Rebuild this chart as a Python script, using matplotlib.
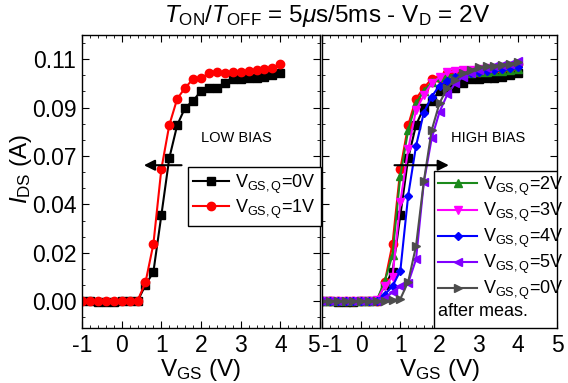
import numpy as np
import matplotlib
matplotlib.use('Agg')
import matplotlib.pyplot as plt
from matplotlib.ticker import MultipleLocator, FormatStrFormatter
from matplotlib.patches import Rectangle

plt.rcParams['font.family'] = 'Liberation Sans'
plt.rcParams['mathtext.fontset'] = 'custom'
plt.rcParams['mathtext.rm'] = 'Liberation Sans'
plt.rcParams['mathtext.it'] = 'Liberation Sans:italic'
plt.rcParams['axes.unicode_minus'] = False

# gate voltage sweep, V
vgs = np.round(np.arange(-1.0, 4.01, 0.2), 1)
xticks = [-1, 0, 1, 2, 3, 4, 5]

# drain current, A  (flat part -1 .. 0.4 V, then 0.6 .. 4.0 V)
i_q0 = [0.0, 0.0, -0.0005, -0.0005, -0.0005, 0.0, 0.0, 0.0,
        0.0073, 0.0133, 0.039, 0.065, 0.080, 0.088, 0.091, 0.0956,
        0.0967, 0.097, 0.099, 0.1008, 0.1012, 0.1015, 0.1015, 0.1017, 0.103, 0.1035]
i_q1 = [0.0, 0.0, 0.0, 0.0, 0.0, 0.0002, 0.0002, 0.0002,
        0.0085, 0.026, 0.060, 0.080, 0.092, 0.097, 0.101, 0.1015,
        0.1035, 0.104, 0.1035, 0.104, 0.1042, 0.1047, 0.105, 0.1056, 0.1062, 0.1076]
i_q2 = [0.0, 0.0, 0.0, 0.0, 0.0, 0.0, 0.0, 0.0005,
        0.009, 0.021, 0.057, 0.0777, 0.090, 0.0955, 0.0995, 0.1018,
        0.1025, 0.103, 0.1032, 0.1035, 0.104, 0.1042, 0.1045, 0.1048, 0.105, 0.1055]
i_q3 = [0.0, 0.0, 0.0, 0.0, 0.0, 0.0, 0.0, 0.0005,
        0.0068, 0.011, 0.045, 0.069, 0.0868, 0.0936, 0.099, 0.1018,
        0.104, 0.1045, 0.105, 0.1052, 0.1055, 0.106, 0.1062, 0.1065, 0.107, 0.1075]
i_q4 = [0.0, 0.0, 0.0, 0.0, 0.0, 0.0, 0.0, 0.0003,
        0.003, 0.0068, 0.0138, 0.048, 0.0705, 0.0857, 0.093, 0.098,
        0.100, 0.102, 0.103, 0.1035, 0.104, 0.1045, 0.105, 0.1055, 0.106, 0.1065]
i_q5 = [0.0, 0.0, 0.0, 0.0, 0.0, 0.0, 0.0, 0.0,
        0.0015, 0.004, 0.0068, 0.0082, 0.019, 0.054, 0.074, 0.086,
        0.094, 0.099, 0.102, 0.1035, 0.105, 0.106, 0.1068, 0.1075, 0.108, 0.109]
i_after = [0.0, 0.0, 0.0, 0.0, 0.0, 0.0, 0.0, 0.0,
           0.0, 0.0005, 0.001, 0.0088, 0.025, 0.0545, 0.0777, 0.090,
           0.097, 0.1007, 0.1035, 0.105, 0.1065, 0.1067, 0.107, 0.1075, 0.108, 0.1085]

fig = plt.figure(figsize=(5.68, 3.83), dpi=100)
ax1 = fig.add_axes([82/568, 55/383, 238/568, 293/383])
ax2 = fig.add_axes([322/568, 55/383, 235/568, 293/383])

ms = 5.5
ax1.plot(vgs, i_q0, 'k-s', ms=ms, lw=1.5, label=r'V$_{\mathrm{GS,Q}}$=0V')
ax1.plot(vgs, i_q1, '-o', color='#ff0000', ms=ms + 0.5, lw=1.5, label=r'V$_{\mathrm{GS,Q}}$=1V')

ax2.plot(vgs, i_q0, 'k-s', ms=ms, lw=1.5)
ax2.plot(vgs, i_q1, '-o', color='#ff0000', ms=ms + 0.5, lw=1.5)
ax2.plot(vgs, i_q2, '-^', color='#1b8a1b', ms=ms, lw=1.5, label=r'V$_{\mathrm{GS,Q}}$=2V')
ax2.plot(vgs, i_q3, '-v', color='#ff00ff', ms=ms, lw=1.5, label=r'V$_{\mathrm{GS,Q}}$=3V')
ax2.plot(vgs, i_q4, '-D', color='#0000ff', ms=ms - 1, lw=1.5, label=r'V$_{\mathrm{GS,Q}}$=4V')
ax2.plot(vgs, i_q5, '-<', color='#8000ff', ms=ms, lw=1.5, label=r'V$_{\mathrm{GS,Q}}$=5V')
ax2.plot(vgs, i_after, '->', color='#4d4d4d', ms=ms, lw=1.5, label=r'V$_{\mathrm{GS,Q}}$=0V')

for ax in (ax1, ax2):
    ax.set_xlim(-1, 5)
    ax.set_ylim(-0.0122, 0.121)
    ax.set_xticks(xticks)
    ax.set_xticklabels([str(t) for t in xticks])
    ax.xaxis.set_minor_locator(MultipleLocator(0.2))
    ax.yaxis.set_major_locator(MultipleLocator(0.022))
    ax.yaxis.set_minor_locator(MultipleLocator(0.022 / 3))
    ax.yaxis.set_major_formatter(FormatStrFormatter('%.2f'))
    ax.tick_params(which='both', direction='in', top=True, right=True, labelsize=16.5)
    ax.tick_params(which='major', length=5, pad=4)
    ax.tick_params(which='minor', length=2.5)
    ax.set_xlabel(r'V$_{\mathrm{GS}}$ (V)', fontsize=17.5, labelpad=0)
    for s in ax.spines.values():
        s.set_linewidth(1.0)

ax2.tick_params(labelleft=False)

# the two panels touch: push the shared "5" / "-1" labels apart
ax1.get_xticklabels()[-1].set_horizontalalignment('right')
ax2.get_xticklabels()[0].set_horizontalalignment('left')

fig.text(21/568, 0.56, r'$I_{\mathrm{DS}}$ (A)', rotation=90, fontsize=17.5,
         ha='center', va='center')
fig.text(0.575, 0.958, r'$T_{\mathrm{ON}}/T_{\mathrm{OFF}}$ = 5$\mu$s/5ms - V$_{\mathrm{D}}$ = 2V',
         fontsize=17.5, ha='center', va='center')

ax1.annotate('', xy=(0.49, 0.0618), xytext=(1.58, 0.0618),
             arrowprops=dict(arrowstyle='-|>', color='k', lw=1.5, mutation_scale=16))
ax2.annotate('', xy=(2.31, 0.0618), xytext=(0.78, 0.0618),
             arrowprops=dict(arrowstyle='-|>', color='k', lw=1.5, mutation_scale=16))
ax1.text(2.9, 0.074, 'LOW BIAS', fontsize=10.5, ha='center', va='center')
ax2.text(3.23, 0.074, 'HIGH BIAS', fontsize=10.5, ha='center', va='center')

leg1 = ax1.legend(loc='upper left', bbox_to_anchor=(0.445, 0.549), borderaxespad=0,
                  fontsize=13, handlelength=2.0, handletextpad=0.3, labelspacing=0.1,
                  borderpad=0.3, fancybox=False, framealpha=1, edgecolor='k')
leg1.get_frame().set_linewidth(1.0)

ax2.add_patch(Rectangle((0.477, 0.0), 0.523, 0.536, transform=ax2.transAxes,
                        facecolor='white', edgecolor='k', lw=1.0, zorder=4))
leg2 = ax2.legend(loc='upper left', bbox_to_anchor=(0.477, 0.536), borderaxespad=0,
                  fontsize=13, handlelength=2.2, handletextpad=0.3, labelspacing=0.16,
                  borderpad=0.2, frameon=False)
leg2.set_zorder(5)
ax2.text(0.492, 0.055, 'after meas.', transform=ax2.transAxes, fontsize=13,
         ha='left', va='center', zorder=6)

fig.savefig('out.png', dpi=100)
